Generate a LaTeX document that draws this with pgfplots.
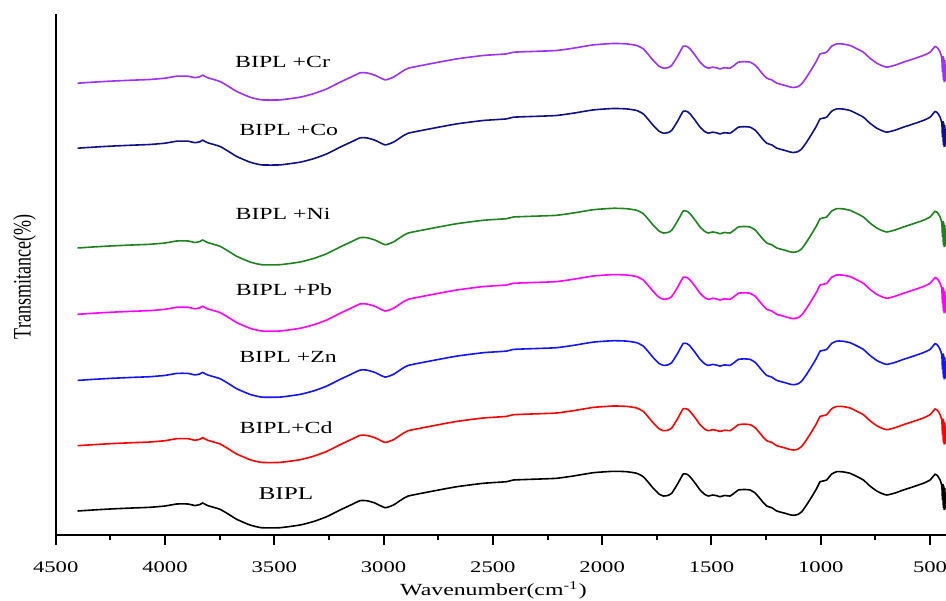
\documentclass[border=0pt]{standalone}
\usepackage{pgfplots}
\pgfplotsset{compat=1.18}
\usepackage{pgfplotstable}
\usepackage{graphicx}
\usepackage{fontspec}
\setmainfont{Liberation Serif}

\definecolor{cCr}{RGB}{155,48,255}
\definecolor{cCo}{RGB}{16,16,140}
\definecolor{cNi}{RGB}{30,130,30}
\definecolor{cPb}{RGB}{255,0,255}
\definecolor{cZn}{RGB}{20,20,255}
\definecolor{cCd}{RGB}{255,0,0}

\newcommand\lab[1]{\scalebox{1.4}[1]{\fontsize{8.5}{10}\selectfont #1}}

% base spectrum (BIPL), arbitrary transmittance units
\pgfplotstableread{
wn t
4400 89
4330 90
4252 91
4150 92
4069 92.7
4000 94
3946 96
3895 96
3863 94.5
3840 95.5
3828 97
3815 95.5
3803 94.3
3748 90.7
3700 84.5
3672 80.7
3611 75
3558 72.3
3474 72.3
3382 75
3320 78.5
3260 83.3
3199 90
3150 95
3108 99.3
3077 99.3
3040 97
2993 92.3
2955 95
2920 100
2887 104
2772 109
2665 113.3
2544 116.7
2437 118.3
2406 120
2284 121
2208 121.7
2132 124
2040 127.3
1949 128.7
1888 128.3
1842 126.7
1812 123.3
1790 118
1766 111.7
1740 106
1720 104
1700 104.5
1682 106.7
1655 116
1629 126
1610 125.5
1598 123.3
1575 117
1552 110
1530 105.5
1514 104
1495 105
1476 104.3
1461 103.3
1440 104.5
1415 104
1395 107
1377 110
1350 110.5
1323 110
1300 107
1285 103.3
1265 98
1247 94
1235 93
1224 92.3
1201 89
1163 86.7
1140 85.2
1125 84.7
1105 85.5
1087 88.3
1065 95
1041 103.3
1020 111
1003 118.3
990 119
973 120
950 126
927 128.3
900 128.2
866 126.7
835 123.5
805 120
775 114
744 109
720 106.5
698 105
660 107
622 110
580 113
531 116.7
500 120
477 125.7
465 124
454 120
446 114
443 100
441 116
439 92
437 114
435 90
433 112
431 91
429 108
427 95
}\spectrum

\begin{document}
\begin{tikzpicture}
\useasboundingbox (-27.85pt,-32.75pt) rectangle (445.15pt,267.25pt);
\begin{axis}[
  scale only axis, width=445.15pt, height=260.25pt,
  xmin=427, xmax=4500, ymin=65.5, ymax=586,
  x dir=reverse,
  axis x line*=bottom, axis y line*=left,
  axis line style={line width=1pt, black},
  xtick={500,1000,...,4500}, minor x tick num=1,
  ytick=\empty,
  tick align=outside,
  major tick length=5pt, minor tick length=2.5pt,
  major tick style={line width=1pt, black},
  minor tick style={line width=1pt, black},
  /pgf/number format/assume math mode=true,
  /pgf/number format/1000 sep={},
  xticklabel={\scalebox{1.4}[1]{\fontsize{8.1}{9}\selectfont\pgfmathprintnumber{\tick}}},
  xticklabel style={anchor=north, inner sep=0pt},
  xticklabel shift=8.5pt,
  xlabel={\lab{Wavenumber(cm\textsuperscript{-1})}},
  xlabel style={at={(axis description cs:0,0)}, anchor=base, xshift=218.9pt, yshift=-30.25pt},
  ylabel={\scalebox{1}[1.4]{\fontsize{9}{10}\selectfont Transmitance(\%)}},
  ylabel style={at={(axis description cs:0,0.495)}, anchor=center, yshift=15.5pt},
  every axis plot/.append style={line width=0.8pt, smooth, tension=0.3},
]
\addplot[black, no markers] table[x=wn, y=t] {\spectrum};
\addplot[cCd, no markers] table[x=wn, y expr=\thisrow{t}+65.3] {\spectrum};
\addplot[cZn, no markers] table[x=wn, y expr=\thisrow{t}+130.6] {\spectrum};
\addplot[cPb, no markers] table[x=wn, y expr=\thisrow{t}+196.7] {\spectrum};
\addplot[cNi, no markers] table[x=wn, y expr=\thisrow{t}+263] {\spectrum};
\addplot[cCo, no markers] table[x=wn, y expr=\thisrow{t}+362.8] {\spectrum};
\addplot[cCr, no markers] table[x=wn, y expr=\thisrow{t}+427.8] {\spectrum};

\node[anchor=base] at (axis cs:3462,532.7) {\lab{BIPL +Cr}};
\node[anchor=base] at (axis cs:3434,464) {\lab{BIPL +Co}};
\node[anchor=base] at (axis cs:3460,380) {\lab{BIPL +Ni}};
\node[anchor=base] at (axis cs:3456,304) {\lab{BIPL +Pb}};
\node[anchor=base] at (axis cs:3437,237) {\lab{BIPL +Zn}};
\node[anchor=base] at (axis cs:3446,167) {\lab{BIPL+Cd}};
\node[anchor=base] at (axis cs:3447,101) {\scalebox{1.4}[1]{\fontsize{9}{10}\selectfont BIPL}};
\end{axis}
\end{tikzpicture}
\end{document}
